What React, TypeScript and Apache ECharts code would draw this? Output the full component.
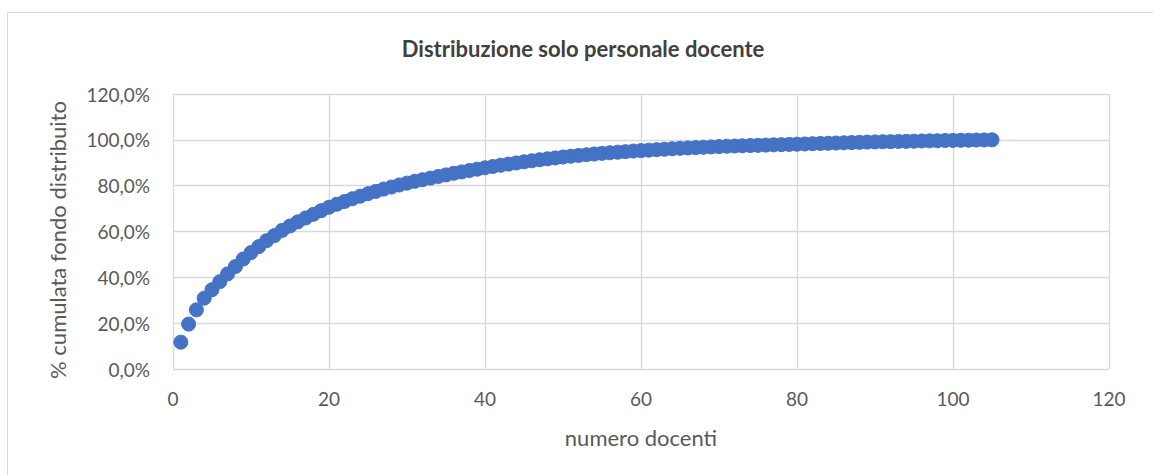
import React, { useEffect, useRef } from "react";
import * as echarts from "echarts";

// numero docenti (1..105)
const docenti: number[] = [
  1, 2, 3, 4, 5, 6, 7, 8, 9, 10, 11, 12, 13, 14, 15, 16, 17, 18, 19, 20,
  21, 22, 23, 24, 25, 26, 27, 28, 29, 30, 31, 32, 33, 34, 35, 36, 37, 38, 39, 40,
  41, 42, 43, 44, 45, 46, 47, 48, 49, 50, 51, 52, 53, 54, 55, 56, 57, 58, 59, 60,
  61, 62, 63, 64, 65, 66, 67, 68, 69, 70, 71, 72, 73, 74, 75, 76, 77, 78, 79, 80,
  81, 82, 83, 84, 85, 86, 87, 88, 89, 90, 91, 92, 93, 94, 95, 96, 97, 98, 99, 100,
  101, 102, 103, 104, 105,
];

// % cumulata fondo distribuito
const cumulata: number[] = [
  11.7, 19.6, 25.8, 30.9, 34.6, 38.1, 41.5, 44.7, 48.0, 50.8,
  53.4, 56.0, 58.2, 60.5, 62.4, 64.2, 65.9, 67.5, 69.1, 70.6,
  71.9, 73.1, 74.3, 75.4, 76.5, 77.5, 78.5, 79.4, 80.3, 81.1,
  81.9, 82.6, 83.3, 84.0, 84.7, 85.4, 86.0, 86.6, 87.2, 87.8,
  88.35, 88.9, 89.4, 89.9, 90.4, 90.85, 91.3, 91.7, 92.1, 92.5,
  92.85, 93.2, 93.5, 93.8, 94.1, 94.35, 94.6, 94.85, 95.1, 95.3,
  95.5, 95.7, 95.9, 96.1, 96.3, 96.45, 96.6, 96.75, 96.9, 97.05,
  97.2, 97.3, 97.4, 97.5, 97.6, 97.7, 97.8, 97.9, 98.0, 98.1,
  98.2, 98.3, 98.4, 98.5, 98.6, 98.7, 98.8, 98.9, 99.0, 99.1,
  99.15, 99.2, 99.3, 99.35, 99.4, 99.5, 99.55, 99.6, 99.7, 99.75,
  99.8, 99.85, 99.9, 99.95, 100.0,
];

const titleText = "Distribuzione solo personale docente";
const xName = "numero docenti";
const yName = "% cumulata fondo distribuito";

const FONT = "Lato, 'Open Sans', sans-serif";

export default function App() {
  const ref = useRef<HTMLDivElement>(null);

  useEffect(() => {
    if (!ref.current) return;
    const chart = echarts.init(ref.current, undefined, { renderer: "svg" });
    const data = docenti.map((d, i) => [d, cumulata[i]]);
    chart.setOption({
      animation: false,
      backgroundColor: "#ffffff",
      textStyle: { fontFamily: FONT },
      grid: { left: 165, top: 81, width: 936, height: 275, containLabel: false },
      xAxis: {
        type: "value",
        min: 0,
        max: 120,
        interval: 20,
        axisLine: { show: false },
        axisTick: { show: false },
        axisLabel: { color: "#595959", fontSize: 19, fontFamily: FONT, margin: 20 },
        splitLine: { show: true, lineStyle: { color: "#d9d9d9", width: 1.3 } },
      },
      yAxis: {
        type: "value",
        min: 0,
        max: 120,
        interval: 20,
        axisLine: { show: false },
        axisTick: { show: false },
        axisLabel: {
          color: "#595959",
          fontSize: 19,
          fontFamily: FONT,
          margin: 23,
          formatter: (v: number) => v.toFixed(1).replace(".", ",") + "%",
        },
        splitLine: { show: true, lineStyle: { color: "#d9d9d9", width: 1.3 } },
      },
      graphic: [
        {
          type: "text",
          x: 575,
          y: 35,
          style: {
            text: titleText,
            fill: "#404040",
            font: `bold 22px ${FONT}`,
            textAlign: "center",
            textVerticalAlign: "middle",
          },
        },
        {
          type: "text",
          x: 633,
          y: 424,
          style: {
            text: xName,
            fill: "#595959",
            font: `22px ${FONT}`,
            textAlign: "center",
            textVerticalAlign: "middle",
          },
        },
        {
          type: "text",
          x: 49,
          y: 227,
          rotation: Math.PI / 2,
          style: {
            text: yName,
            fill: "#595959",
            font: `22px ${FONT}`,
            textAlign: "center",
            textVerticalAlign: "middle",
          },
        },
      ],
      series: [
        {
          type: "scatter",
          data,
          symbol: "circle",
          symbolSize: 14,
          itemStyle: { color: "#4472C4", borderColor: "#4472C4", borderWidth: 1, opacity: 1 },
        },
      ],
    });
    return () => chart.dispose();
  }, []);

  return (
    <div
      style={{
        position: "fixed",
        left: 7,
        top: 12,
        width: 1146,
        height: 463,
        borderLeft: "1px solid #d9d9d9",
        borderTop: "1px solid #d9d9d9",
        overflow: "hidden",
        background: "#ffffff",
      }}
    >
      <div ref={ref} style={{ width: 1145, height: 462 }} />
    </div>
  );
}
